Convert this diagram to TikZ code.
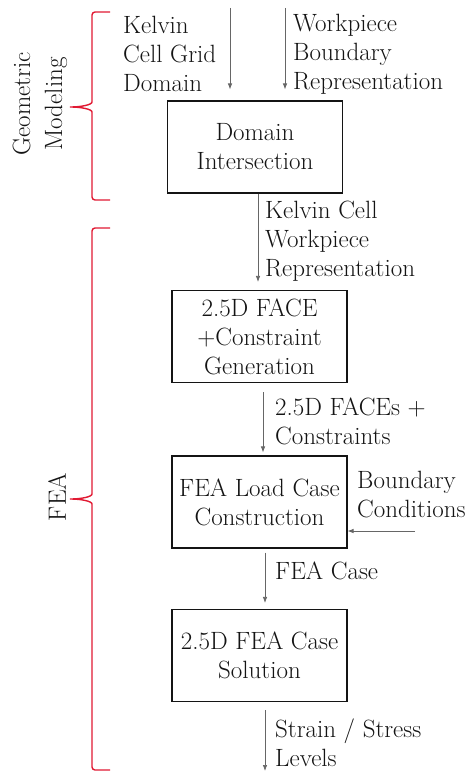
\documentclass[tikz,border=0pt]{standalone}
\usetikzlibrary{arrows.meta,positioning,calc}
\definecolor{bracered}{RGB}{225,25,50}
\definecolor{ink}{RGB}{20,20,20}

\begin{document}
\begin{tikzpicture}[x=1pt,y=-1pt,
  font=\fontsize{25}{29}\selectfont,
  box/.style={draw=ink,line width=1.1pt,minimum width=175pt,minimum height=92pt,align=center,text=ink,inner sep=2pt},
  lbl/.style={anchor=north west,align=left,inner sep=0pt,text=ink},
  flow/.style={draw=black!60,line width=0.7pt,-{Latex[length=6pt,width=4.5pt]}},
  curly/.style={draw=bracered,line width=1.4pt,rounded corners=3pt}]
  \useasboundingbox (0,0) rectangle (471,773);

  % process boxes
  \node[box] (dom)  at (255,147)   {Domain\\Intersection};
  \node[box] (fgen) at (259.5,336.5) {2.5D FACE\\+Constraint\\Generation};
  \node[box] (load) at (259.5,502) {FEA Load Case\\Construction};
  \node[box] (sol)  at (259.5,655.5) {2.5D FEA Case\\Solution};

  % free ends and columns
  \coordinate (kin) at (230,8);
  \coordinate (win) at (285,8);
  \coordinate (colA) at (258,0);
  \coordinate (colB) at (263,0);
  \coordinate (colC) at (265,0);
  \coordinate (bcin) at (415,531);
  \coordinate (out) at (265,771);

  % labels
  \node[lbl] (kcg) at (123,16) {Kelvin\\Cell Grid\\Domain};
  \node[lbl] (wbr) at (293,14) {Workpiece\\Boundary\\Representation};
  \node[lbl] (kcw) at (265,201) {Kelvin Cell\\Workpiece\\Representation};
  \node[lbl] (fcs) at (275,398) {2.5D FACEs +\\Constraints};
  \node[lbl] (bnd) at (357,471) {Boundary\\Conditions};
  \node[lbl] (fcase) at (275,562) {FEA Case};
  \node[lbl] (ssl) at (275,719) {Strain / Stress\\Levels};

  % connectors
  \draw[flow,shorten >=11pt] (kin) -- (kin |- dom.north);
  \draw[flow,shorten >=11pt] (win) -- (win |- dom.north);
  \draw[flow,shorten >=8pt] (dom.south -| colA) -- (fgen.north -| colA);
  \draw[flow,shorten <=9pt,shorten >=3pt] (fgen.south -| colB) -- (load.north -| colB);
  \draw[flow,shorten <=4pt,shorten >=6pt] (load.south -| colC) -- (sol.north -| colC);
  \draw[flow,shorten <=8pt] (sol.south -| colC) -- (out);
  \draw[flow] (bcin) -- (bcin -| load.east);

  % braces
  \draw[curly] (110,12) -- (92,12) -- (92,99)
    .. controls (92,105) and (80,107) .. (68,107)
    .. controls (80,107) and (92,109) .. (92,115) -- (92,200) -- (110,200);
  \draw[curly] (110,228) -- (92,228) -- (92,491)
    .. controls (92,497) and (80,499) .. (68,499)
    .. controls (80,499) and (92,501) .. (92,507) -- (92,770) -- (110,770);

  \node[rotate=90,align=center,text=ink] (geo) at (40,104) {Geometric\\[3pt]Modeling};
  \node[rotate=90,text=ink] (fea) at (57,497) {FEA};
\end{tikzpicture}
\end{document}
